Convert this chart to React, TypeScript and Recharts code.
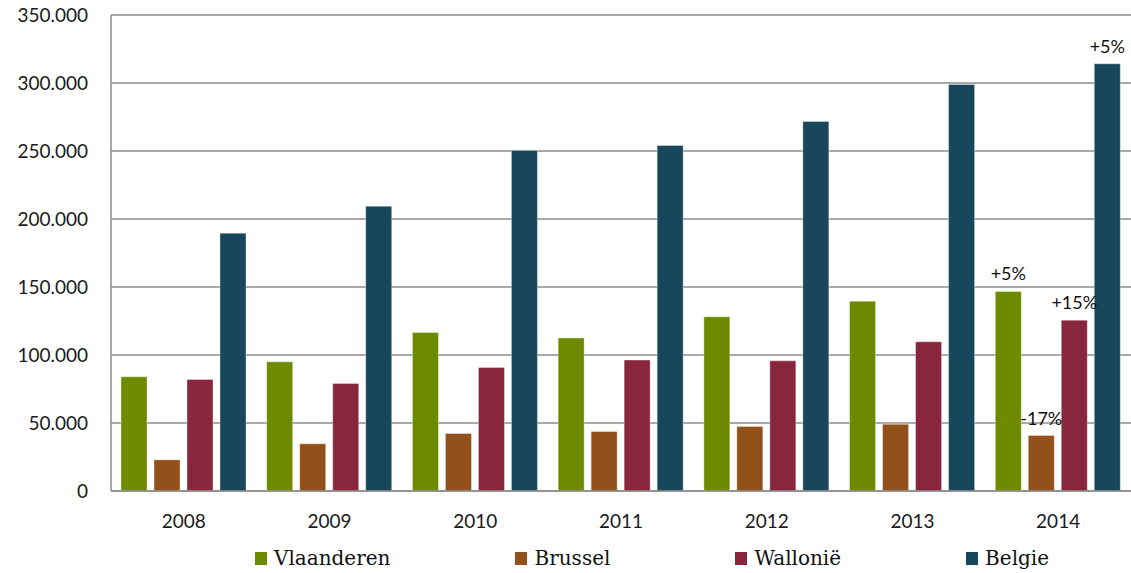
import React from "react";
import { Bar, BarChart, CartesianGrid, LabelList, XAxis, YAxis } from "recharts";

const years = ["2008", "2009", "2010", "2011", "2012", "2013", "2014"];
const vlaanderen = [84000, 95000, 116500, 112500, 128100, 139600, 146700];
const brussel = [22900, 34700, 42300, 43800, 47400, 49100, 40800];
const wallonie = [82000, 79000, 90800, 96300, 95700, 109700, 125600];
const belgie = [189600, 209400, 250400, 254000, 271700, 298900, 314100];

// alleen 2014 krijgt een procentlabel
const vlaanderenLbl = ["", "", "", "", "", "", "+5%"];
const brusselLbl = ["", "", "", "", "", "", "-17%"];
const wallonieLbl = ["", "", "", "", "", "", "+15%"];
const belgieLbl = ["", "", "", "", "", "", "+5%"];

const yTicks = [0, 50000, 100000, 150000, 200000, 250000, 300000, 350000];

const series = [
  { key: "vlaanderen", label: "vlaanderenLbl", name: "Vlaanderen", color: "#6e8b00" },
  { key: "brussel", label: "brusselLbl", name: "Brussel", color: "#92501b" },
  { key: "wallonie", label: "wallonieLbl", name: "Walloni\u00eb", color: "#87263c" },
  { key: "belgie", label: "belgieLbl", name: "Belgie", color: "#18465b" },
];

const data = years.map((year, i) => ({
  year,
  vlaanderen: vlaanderen[i],
  brussel: brussel[i],
  wallonie: wallonie[i],
  belgie: belgie[i],
  vlaanderenLbl: vlaanderenLbl[i],
  brusselLbl: brusselLbl[i],
  wallonieLbl: wallonieLbl[i],
  belgieLbl: belgieLbl[i],
}));

const fmt = (v: number) => (v === 0 ? "0" : `${v / 1000}.000`);

const tickStyle = { fontSize: 19, fill: "#1a1a1a", fontFamily: "Lato" };

export default function App() {
  return (
    <div style={{ position: "absolute", left: 0, top: 0, width: 1131, height: 573, background: "#fff" }}>
      <BarChart
        width={1131}
        height={540}
        data={data}
        margin={{ top: 15, right: 0, left: 0, bottom: 0 }}
        barCategoryGap={10}
        barGap={7}
      >
        <CartesianGrid vertical={false} stroke="#8c8c8c" strokeWidth={1.5} />
        <XAxis
          dataKey="year"
          tick={tickStyle}
          tickLine={false}
          axisLine={{ stroke: "#8c8c8c", strokeWidth: 1.5 }}
          tickMargin={18}
          height={49}
        />
        <YAxis
          domain={[0, 350000]}
          ticks={yTicks}
          tickFormatter={fmt}
          tick={tickStyle}
          tickLine={false}
          axisLine={{ stroke: "#8c8c8c", strokeWidth: 1.5 }}
          tickMargin={17}
          width={111}
          interval={0}
        />
        {series.map((s) => (
          <Bar
            key={s.key}
            dataKey={s.key}
            name={s.name}
            fill={s.color}
            stroke="#ffffff"
            strokeOpacity={0.35}
            strokeWidth={1}
            isAnimationActive={false}
          >
            <LabelList
              dataKey={s.label}
              position="top"
              offset={11}
              fontSize={18}
              fontFamily="Lato"
              fill="#111"
            />
          </Bar>
        ))}
      </BarChart>
      <div
        style={{
          position: "absolute",
          left: 255,
          top: 545,
          display: "flex",
          gap: 125,
          fontFamily: "DejaVu Serif",
          fontSize: 20,
          color: "#111",
          lineHeight: "26px",
        }}
      >
        {series.map((s) => (
          <div key={s.key} style={{ display: "flex", alignItems: "center" }}>
            <span style={{ display: "inline-block", width: 12, height: 13, background: s.color, marginRight: 7 }} />
            <span>{s.name}</span>
          </div>
        ))}
      </div>
    </div>
  );
}
